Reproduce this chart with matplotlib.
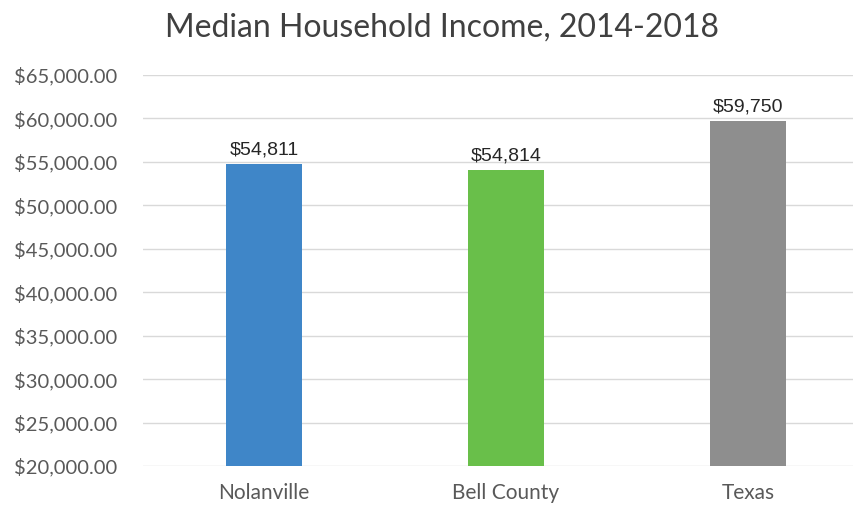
import matplotlib.pyplot as plt
from matplotlib.ticker import FuncFormatter

# data
places = ['Nolanville', 'Bell County', 'Texas']
income = [54811, 54100, 59750]          # bar heights as drawn
income_labels = ['$54,811', '$54,814', '$59,750']
colors = ['#3f86c8', '#69bf4a', '#8e8e8e']

plt.rcParams['font.family'] = ['Lato', 'DejaVu Sans']

fig = plt.figure(figsize=(8.54, 5.09), dpi=100)
# axes runs a bit past the right edge like the original
ax = fig.add_axes([143/854, (509-466)/509, 726/854, 391/509])

x = range(len(places))
bars = ax.bar(x, income, width=0.31, color=colors, zorder=3)
for b, lab in zip(bars, income_labels):
    ax.text(b.get_x()+b.get_width()/2, b.get_height()+600, lab,
            ha='center', va='bottom', fontsize=14, color='#262626',
            family=['Liberation Sans', 'DejaVu Sans'])

ax.set_ylim(20000, 65000)
ax.set_xlim(-0.5, 2.5)
ax.set_yticks(range(20000, 65001, 5000))
ax.yaxis.set_major_formatter(FuncFormatter(lambda v, p: '${:,.2f}'.format(v)))
ax.set_xticks(list(x))
ax.set_xticklabels(places)
ax.tick_params(axis='both', length=0, labelcolor='#595959')
ax.tick_params(axis='y', pad=18.5, labelsize=14.5)
ax.tick_params(axis='x', pad=12, labelsize=15)
ax.grid(axis='y', color='#d9d9d9', linewidth=1, zorder=0)
for s in ax.spines.values():
    s.set_visible(False)

fig.text(0.518, 0.945, 'Median Household Income, 2014-2018', ha='center', va='center',
         fontsize=23, color='#404040')

fig.savefig('out.png', dpi=100)
